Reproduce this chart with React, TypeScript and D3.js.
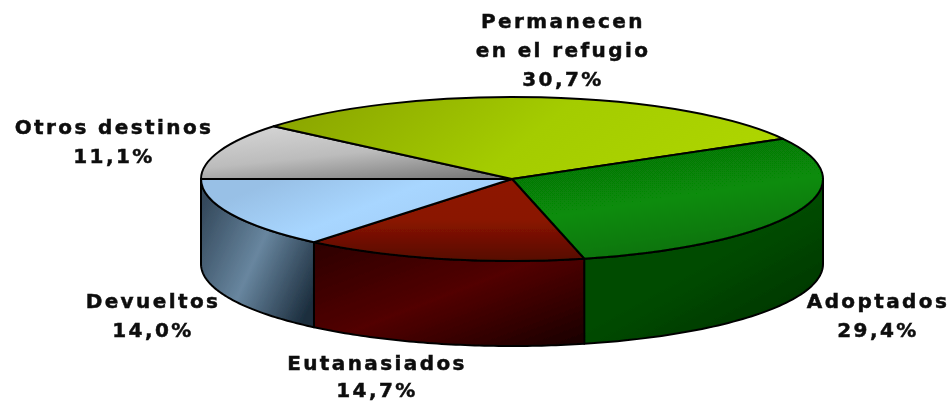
import React from "react";
import * as d3 from "d3";

const categories = ["Otros destinos", "Permanecen en el refugio", "Adoptados", "Eutanasiados", "Devueltos"];
const values = [11.1, 30.7, 29.4, 14.7, 14.0];
const valueLabels = ["11,1%", "30,7%", "29,4%", "14,7%", "14,0%"];
const labelLines = [["Otros destinos"], ["Permanecen", "en el refugio"], ["Adoptados"], ["Eutanasiados"], ["Devueltos"]];
const labelAnchors: [number, number][] = [[114, 134], [563, 28], [878, 308], [377, 370], [153, 308]];
const labelGaps = [29, 29, 29, 27, 29];
const topStops = [
  ["#d4d4d4", "#bcbcbc", "#7c7c7c"],
  ["#8ba600", "#a4cc00", "#aed600"],
  ["#066e06", "#078c07", "#086c08"],
  ["#8e1600", "#8a1400", "#560a00"],
  ["#98c0e6", "#a8d6ff", "#a0ccf6"],
];
const sideStops = [
  ["#999", "#999", "#999"],
  ["#999", "#999", "#999"],
  ["#054a05", "#054c05", "#023002"],
  ["#2c0000", "#520500", "#180000"],
  ["#34495c", "#68869f", "#1c2e3e"],
];
const topDirs = [[0.2, 0, 0.8, 1], [0, 0.4, 1, 0.6], [0.3, 0, 0.7, 1], [0.5, 0, 0.5, 1], [0.1, 0.3, 0.9, 0.7]];
const sideDirs = [[0, 0, 1, 0], [0, 0, 1, 0], [0.1, 0, 0.9, 1], [0, 0, 1, 1], [0, 0.2, 1, 0.8]];

const W = 951, H = 402, cx = 512, cy = 179, rx = 311, ry = 82, depth = 85;

const pieGen = d3.pie<number>().sort(null).startAngle(-Math.PI / 2).endAngle(1.5 * Math.PI);
const arcs = pieGen(values);
const arcGen = d3.arc<d3.PieArcDatum<number>>().innerRadius(0).outerRadius(rx);
const lineGen = d3.line();

const rim = (a: number, dy = 0): [number, number] => [cx + rx * Math.sin(a), cy - ry * Math.cos(a) + dy];

function sidePath(a0: number, a1: number): string | null {
  const s = Math.max(a0, Math.PI / 2), e = Math.min(a1, 1.5 * Math.PI);
  if (e <= s) return null;
  const t = d3.scaleLinear().domain([0, 60]).range([s, e]);
  const angles = d3.range(61).map((i) => t(i));
  const top = angles.map((a) => rim(a));
  const bottom = angles.slice().reverse().map((a) => rim(a, depth));
  return lineGen([...top, ...bottom]) + "Z";
}

const font = "'DejaVu Sans', Verdana, sans-serif";

export default function App() {
  return (
    <svg width={W} height={H} viewBox={`0 0 ${W} ${H}`} style={{ position: "absolute", left: 0, top: 0, background: "#fff" }}>
      <defs>
        <filter id="softPie" x="-5%" y="-5%" width="110%" height="110%">
          <feGaussianBlur stdDeviation="0.6" />
        </filter>
        <filter id="softText" x="-5%" y="-5%" width="110%" height="110%">
          <feGaussianBlur stdDeviation="0.7" />
        </filter>
        {categories.map((c, i) => (
          <React.Fragment key={c}>
            <linearGradient id={`top${i}`} x1={topDirs[i][0]} y1={topDirs[i][1]} x2={topDirs[i][2]} y2={topDirs[i][3]}>
              {topStops[i].map((col, j) => <stop key={j} offset={j / 2} stopColor={col} />)}
            </linearGradient>
            <linearGradient id={`side${i}`} x1={sideDirs[i][0]} y1={sideDirs[i][1]} x2={sideDirs[i][2]} y2={sideDirs[i][3]}>
              {sideStops[i].map((col, j) => <stop key={j} offset={j / 2} stopColor={col} />)}
            </linearGradient>
          </React.Fragment>
        ))}
      </defs>
      <g filter="url(#softPie)" stroke="#050505" strokeWidth={2} strokeLinejoin="round">
        {arcs.map((d, i) => {
          const p = sidePath(d.startAngle, d.endAngle);
          return p ? <path key={i} d={p} fill={`url(#side${i})`} /> : null;
        })}
        {arcs.map((d, i) => (
          <path
            key={i}
            d={arcGen(d) as string}
            transform={`translate(${cx},${cy}) scale(1,${ry / rx})`}
            fill={`url(#top${i})`}
            vectorEffect="non-scaling-stroke"
          />
        ))}
      </g>
      <g filter="url(#softText)" fontFamily={font} fontWeight="bold" fontSize={20} fill="#111" stroke="#111" strokeWidth={0.5} textAnchor="middle" letterSpacing={2.4}>
        {arcs.map((d, i) => {
          const [x, y] = labelAnchors[i];
          const lines = [...labelLines[i], valueLabels[i]];
          return (
            <text key={i} x={x} y={y}>
              {lines.map((l, j) => (
                <tspan key={j} x={x} dy={j === 0 ? 0 : labelGaps[i]}>{l}</tspan>
              ))}
            </text>
          );
        })}
      </g>
    </svg>
  );
}
